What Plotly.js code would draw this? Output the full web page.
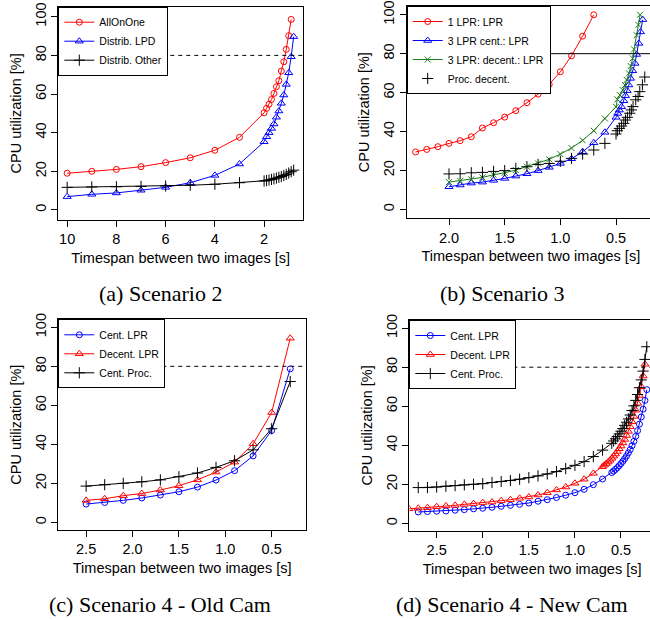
<!DOCTYPE html>
<html><head><meta charset="utf-8">
<script src="https://cdn.plot.ly/plotly-3.0.1.min.js"></script>
<style>html,body{margin:0;padding:0;overflow:hidden;background:#fff}#chart{width:660px;height:620px}</style>
</head><body><div id="chart"></div>
<script>
// ---------- Panel (a) Scenario 2 ----------
const aX = [10,9,8,7,6,5,4,3,2,1.9,1.8,1.7,1.6,1.5,1.4,1.3,1.2,1.1,1.0,0.9];
const aAllOnOne = [19,20,21,22.4,24.5,27,30.9,37.6,50.3,52.6,54.7,57.2,60.3,63.8,66.9,71.9,76.7,83.1,90.2,98.6];
const aXLong = [10,9,8,7,6,5,4,3,2,1.9,1.8,1.7,1.6,1.5,1.4,1.3,1.2,1.1,1.0,0.9,0.8];
const aDistribLPD = [6.9,8.1,8.8,10.2,11.7,14.1,17.9,23.8,35.3,37.9,40,42.2,44.5,48,51.2,55.2,59.5,65,71,79.3,89.7];
const aDistribOther = [11.7,11.9,12,12.2,12.4,12.8,13.3,14.1,15,15.2,15.5,15.8,16.1,16.5,16.9,17.3,17.8,18.4,19.1,19.8,20.6];
const aTickVals = [10,8,6,4,2];
const aTickText = ['10','8','6','4','2'];

// ---------- Panel (b) Scenario 3 ----------
const b1LprX = [2.3,2.2,2.1,2.0,1.9,1.8,1.7,1.6,1.5,1.4,1.3,1.2,1.1,1.0,0.9,0.8,0.7];
const b1Lpr = [29.5,30.8,32.2,33.9,35.3,37.3,41.8,44.5,47.4,50.7,54.8,59.2,64.2,70.7,78.9,89,100];
const bCentX = [2.0,1.9,1.8,1.7,1.6,1.5,1.4,1.3,1.2,1.1,1.0,0.9,0.8,0.7,0.6,0.5,0.485,0.47,0.45,0.43,0.415,0.4,0.385,0.37,0.35,0.33,0.315,0.295,0.28,0.26];
const bCent = [11.6,12.5,13.5,14,14.9,15.9,17.1,18.3,19.9,21.6,23.6,26,29.6,34.2,39.6,47.3,49.3,51,52.7,55.8,58.4,61,63.9,67.3,71.2,75,79.6,85.3,91.2,97.5];
const bDecentX = [2.0,1.9,1.8,1.7,1.6,1.5,1.4,1.3,1.2,1.1,1.0,0.9,0.8,0.7,0.6,0.5,0.488,0.464,0.44,0.42,0.404,0.383,0.368,0.35,0.338,0.314,0.299,0.284];
const bDecent = [14,14.7,15.4,16.4,17.8,18.8,20.2,21.9,23.6,25.7,28.4,31.5,35.5,40.4,46.7,52.7,56.5,58.7,61.3,63.9,66.5,69.9,73.6,77.6,82.2,89.5,94.8,100];
const bProcX = [2.0,1.9,1.8,1.7,1.6,1.5,1.4,1.3,1.2,1.1,1.0,0.9,0.8,0.7,0.6,0.5,0.488,0.47,0.45,0.43,0.415,0.398,0.377,0.362,0.347,0.323,0.302,0.287,0.263,0.242];
const bProc = [18.2,18.3,18.8,19,19.5,19.9,21,21.9,23.1,23.6,24.7,26.2,28.4,30.5,33.9,38.7,40.4,41.6,42.8,44.2,45.9,47.3,49.4,51.1,52.8,56.3,58,60.5,64,68];
const bTickVals = [2.0,1.5,1.0,0.5];
const bTickText = ['2.0','1.5','1.0','0.5'];

// ---------- Panel (c) Scenario 4 - Old Cam ----------
const cX = [2.5,2.3,2.1,1.9,1.7,1.5,1.3,1.1,0.9,0.7,0.5,0.3];
const cCentLPR = [9.4,10.2,11.3,12.5,14,15.7,18.1,21.7,26.5,34.1,47.1,78.7];
const cDecentLPR = [11.3,12.1,13.7,14.8,16.6,18.8,21.8,25.8,30.9,40.3,56.3,94.4];
const cCentProc = [18.6,19.3,20,20.8,21.8,23.4,25.3,28.2,31.6,37.2,48,72.2];
const cdTickVals = [2.5,2.0,1.5,1.0,0.5];
const cdTickText = ['2.5','2.0','1.5','1.0','0.5'];

// ---------- Panel (d) Scenario 4 - New Cam ----------
const dCentLPRX = [2.7,2.6,2.5,2.4,2.3,2.2,2.1,2.0,1.9,1.8,1.7,1.6,1.5,1.4,1.3,1.2,1.1,1.0,0.9,0.8,0.7,
  0.6,0.58,0.56,0.54,0.52,0.5,0.48,0.46,0.44,0.42,0.4,0.38,0.36,0.34,0.32,0.3,0.28,0.26,0.24,0.22];
const dCentLPR = [5.8,6,6.2,6.3,6.7,7,7.4,7.7,8.2,8.7,9.2,9.7,10.4,11.3,12.1,13.2,14.4,15.7,17.4,19.8,22.7,
  26,26.8,27.6,28.5,29.5,30.6,31.8,33.1,34.5,36.1,37.8,39.8,42,44.6,47.5,50.8,54.5,58.5,63,68.5];
const dDecentLPRX = [2.8,2.7,2.6,2.5,2.4,2.3,2.2,2.1,2.0,1.9,1.8,1.7,1.6,1.5,1.4,1.3,1.2,1.1,1.0,0.9,0.8,
  0.7,0.68,0.66,0.64,0.62,0.6,0.58,0.56,0.54,0.52,0.5,0.48,0.46,0.44,0.42,0.4,0.38,0.36,0.34,0.32,0.3,0.28,0.26,0.24];
const dDecentLPR = [7.4,7.7,8,8.5,8.9,9.2,9.7,10.1,10.6,10.9,11.6,12.1,12.8,13.5,14.5,15.7,17.1,18.6,20.5,22.6,25.6,
  29,29.8,30.6,31.4,32.3,33.3,34.4,35.5,36.8,38.2,39.6,41.2,43,45,47.1,49.5,52,54.8,58,61.5,65.5,70,75.5,81.5];
const dCentProcX = [2.7,2.6,2.5,2.4,2.3,2.2,2.1,2.0,1.9,1.8,1.7,1.6,1.5,1.4,1.3,1.2,1.1,1.0,0.9,0.8,0.7,
  0.6,0.58,0.56,0.54,0.52,0.5,0.48,0.46,0.44,0.42,0.4,0.38,0.36,0.34,0.32,0.3,0.28,0.26,0.24,0.22];
const dCentProc = [18.3,18.3,18.6,19,19.3,19.7,20,20.3,20.9,21.4,21.9,22.6,23.4,24.3,25.3,26.5,28,29.7,31.6,34.2,37.5,
  41,42.2,43.3,44.5,45.8,47.2,48.6,50.2,51.8,53.5,55.5,57.8,60.2,63,66,69.5,73.5,78,84,90.5];

const yTickVals = [0,20,40,60,80,100];
const threshold = 80;
const captions = ['(a) Scenario 2','(b) Scenario 3','(c) Scenario 4 - Old Cam','(d) Scenario 4 - New Cam'];

// ---------- layout helpers ----------
const W = 660, H = 620;
const FONT = 'Liberation Sans, Arial, Helvetica, sans-serif';
const RED = '#ff0000', BLUE = '#0000ff', GREEN = '#1b7a1b', BLACK = '#000000';
function dx(a, b) { return [a / W, b / W]; }
function dy(top, bottom) { return [1 - bottom / H, 1 - top / H]; }

function xAxis(domain, range, tv, tt, anchor) {
  return {domain, range, autorange: false, anchor, tickmode: 'array', tickvals: tv, ticktext: tt,
    ticks: 'outside', ticklen: 6, tickwidth: 1, tickcolor: '#000', showline: true, linecolor: '#000',
    linewidth: 1, mirror: true, showgrid: false, zeroline: false,
    tickfont: {size: 14.5, color: '#000'},
    title: {text: 'Timespan between two images [s]', font: {size: 14.5, color: '#000'}, standoff: 6}};
}
function yAxis(domain, range, anchor) {
  return {domain, range, autorange: false, anchor, tickmode: 'array', tickvals: yTickVals,
    ticks: 'outside', ticklen: 6, tickwidth: 1, tickcolor: '#000', showline: true, linecolor: '#000',
    linewidth: 1, mirror: true, showgrid: false, zeroline: false, tickangle: -90,
    tickfont: {size: 14.5, color: '#000'},
    title: {text: 'CPU utilization [%]', font: {size: 14.5, color: '#000'}, standoff: 7}};
}
function tr(x, y, name, color, symbol, size, xa, ya, legend, mode) {
  return {type: 'scatter', x, y, name, mode: mode || 'lines+markers', xaxis: xa, yaxis: ya, legend,
    line: {color, width: 1}, marker: {symbol, size, color, line: {color, width: 1}}};
}
function legendAt(x, y) {
  return {x, y, xref: 'paper', yref: 'paper', xanchor: 'left', yanchor: 'top', bgcolor: '#fff',
    bordercolor: '#000', borderwidth: 1, font: {size: 10.5, family: FONT, color: '#000'},
    tracegroupgap: 0, itemwidth: 30};
}

const aDX = dx(58.3, 303), aDY = dy(6.7, 220);
const bDX = dx(406.7, 655), bDY = dy(6, 218.3);
const cDX = dx(58.3, 306), cDY = dy(319.3, 530);
const dDX = dx(409.3, 655), dDY = dy(320, 530.7);

const data = [
  tr(aX, aAllOnOne, 'AllOnOne', RED, 'circle-open', 6, 'x', 'y', 'legend'),
  tr(aXLong, aDistribLPD, 'Distrib. LPD', BLUE, 'triangle-up-open', 7, 'x', 'y', 'legend'),
  tr(aXLong, aDistribOther, 'Distrib. Other', BLACK, 'cross-thin-open', 8, 'x', 'y', 'legend'),

  tr(b1LprX, b1Lpr, '1 LPR: LPR', RED, 'circle-open', 6, 'x2', 'y2', 'legend2'),
  tr(bCentX, bCent, '3 LPR cent.: LPR', BLUE, 'triangle-up-open', 7, 'x2', 'y2', 'legend2'),
  tr(bDecentX, bDecent, '3 LPR: decent.: LPR', GREEN, 'x-thin-open', 6, 'x2', 'y2', 'legend2'),
  tr(bProcX, bProc, 'Proc. decent.', BLACK, 'cross-thin-open', 8, 'x2', 'y2', 'legend2', 'markers'),

  tr(cX, cCentLPR, 'Cent. LPR', BLUE, 'circle-open', 6, 'x3', 'y3', 'legend3'),
  tr(cX, cDecentLPR, 'Decent. LPR', RED, 'triangle-up-open', 7, 'x3', 'y3', 'legend3'),
  tr(cX, cCentProc, 'Cent. Proc.', BLACK, 'cross-thin-open', 8, 'x3', 'y3', 'legend3'),

  tr(dCentLPRX, dCentLPR, 'Cent. LPR', BLUE, 'circle-open', 6, 'x4', 'y4', 'legend4'),
  tr(dDecentLPRX, dDecentLPR, 'Decent. LPR', RED, 'triangle-up-open', 7, 'x4', 'y4', 'legend4'),
  tr(dCentProcX, dCentProc, 'Cent. Proc.', BLACK, 'cross-thin-open', 8, 'x4', 'y4', 'legend4')
];

function hline(xa, ya, dash) {
  return {type: 'line', xref: xa + ' domain', yref: ya, x0: 0, x1: 1, y0: threshold, y1: threshold,
    line: {color: '#000', width: 1, dash}};
}
function caption(text, xpx, ypx) {
  return {text, xref: 'paper', yref: 'paper', x: xpx / W, y: 1 - ypx / H, showarrow: false,
    xanchor: 'center', yanchor: 'middle', font: {family: 'Liberation Serif, Times New Roman, serif', size: 22, color: '#000'}};
}

const layout = {
  width: W, height: H, autosize: false, margin: {l: 0, r: 0, t: 0, b: 0},
  paper_bgcolor: '#fff', plot_bgcolor: '#fff', font: {family: FONT, color: '#000'},
  xaxis: xAxis(aDX, [10.36, 0.42], aTickVals, aTickText, 'y'),
  yaxis: yAxis(aDY, [-5.2, 105.2], 'x'),
  xaxis2: xAxis(bDX, [2.38, 0.15], bTickVals, bTickText, 'y2'),
  yaxis2: yAxis(bDY, [-4.6, 104.5], 'x2'),
  xaxis3: xAxis(cDX, [2.8, 0.13], cdTickVals, cdTickText, 'y3'),
  yaxis3: yAxis(cDY, [-3.9, 104.1], 'x3'),
  xaxis4: xAxis(dDX, [2.797, 0.131], cdTickVals, cdTickText, 'y4'),
  yaxis4: yAxis(dDY, [-3.8, 104.2], 'x4'),
  legend: legendAt(aDX[0], aDY[1]),
  legend2: legendAt(bDX[0], bDY[1]),
  legend3: legendAt(cDX[0], cDY[1]),
  legend4: legendAt(dDX[0], dDY[1]),
  shapes: [hline('x', 'y', '4px,4px'), hline('x2', 'y2', 'solid'), hline('x3', 'y3', '4px,4px'), hline('x4', 'y4', '4px,4px')],
  annotations: [caption(captions[0], 160, 293), caption(captions[1], 502, 293), caption(captions[2], 160, 604), caption(captions[3], 512, 604)]
};

Plotly.newPlot('chart', data, layout, {displayModeBar: false, staticPlot: true});
</script>
</body></html>
